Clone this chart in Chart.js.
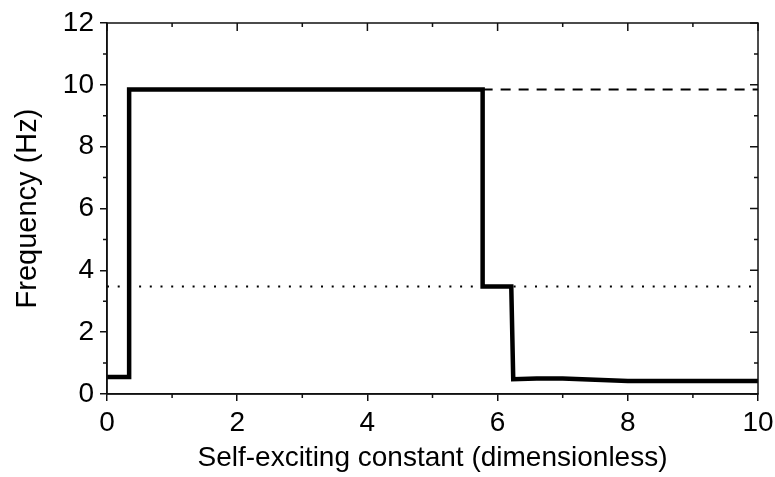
<!DOCTYPE html>
<html>
<head>
<meta charset="utf-8">
<script src="https://cdn.jsdelivr.net/npm/chart.js@4/dist/chart.umd.min.js"></script>
<style>
  html, body { margin: 0; padding: 0; background: #fff; }
  #wrap { width: 775px; height: 477px; }
</style>
</head>
<body>
<div id="wrap"><canvas id="myChart" width="775" height="477"></canvas></div>
<script>
// frequency vs self-exciting constant (step-like curve)
const selfExciting = [0, 0.34, 0.34, 5.77, 5.77, 6.21, 6.24, 6.6, 7.0, 7.5, 8.0, 10];
const frequency    = [0.55, 0.55, 9.85, 9.85, 3.48, 3.48, 0.48, 0.50, 0.50, 0.46, 0.42, 0.42];

// reference levels
const dashedX = [5.77, 10];
const dashedY = [9.85, 9.85];
const dottedX = [0, 10];
const dottedY = [3.48, 3.48];

// tick positions
const xMajor = [0, 2, 4, 6, 8, 10];
const xMinor = [1, 3, 5, 7, 9];
const yMajor = [0, 2, 4, 6, 8, 10, 12];
const yMinor = [1, 3, 5, 7, 9, 11];

const toPoints = (xs, ys) => xs.map((v, i) => ({x: v, y: ys[i]}));

const FONT = 'Liberation Sans, Arial, sans-serif';

// minor ticks + mirrored ticks on top/right, and the frame
const frameTicks = {
    id: 'frameTicks',
    afterDraw(chart) {
        const {ctx, chartArea: a, scales: {x, y}} = chart;
        ctx.save();
        ctx.strokeStyle = '#111';
        ctx.lineWidth = 1.5;
        ctx.beginPath();
        // bottom minor (outward)
        xMinor.forEach(v => {
            const px = x.getPixelForValue(v);
            ctx.moveTo(px, a.bottom); ctx.lineTo(px, a.bottom + 4);
        });
        // left minor (outward)
        yMinor.forEach(v => {
            const py = y.getPixelForValue(v);
            ctx.moveTo(a.left, py); ctx.lineTo(a.left - 4, py);
        });
        // top (inward)
        xMajor.forEach(v => {
            const px = x.getPixelForValue(v);
            ctx.moveTo(px, a.top); ctx.lineTo(px, a.top + 8);
        });
        xMinor.forEach(v => {
            const px = x.getPixelForValue(v);
            ctx.moveTo(px, a.top); ctx.lineTo(px, a.top + 4);
        });
        // right (inward)
        yMajor.forEach(v => {
            const py = y.getPixelForValue(v);
            ctx.moveTo(a.right, py); ctx.lineTo(a.right - 8, py);
        });
        yMinor.forEach(v => {
            const py = y.getPixelForValue(v);
            ctx.moveTo(a.right, py); ctx.lineTo(a.right - 4, py);
        });
        ctx.stroke();
        ctx.strokeRect(a.left, a.top, a.right - a.left, a.bottom - a.top);
        ctx.restore();
    }
};

let ctx = document.getElementById('myChart').getContext('2d');
let chart = new Chart(ctx, {
    type: 'line',
    data: {
        datasets: [{
            data: toPoints(dottedX, dottedY),
            borderColor: '#000',
            borderWidth: 2,
            borderDash: [2, 8.7],
            pointRadius: 0
        }, {
            data: toPoints(dashedX, dashedY),
            borderColor: '#000',
            borderWidth: 2,
            borderDash: [10, 8],
            pointRadius: 0
        }, {
            data: toPoints(selfExciting, frequency),
            borderColor: '#000',
            borderWidth: 4.5,
            borderJoinStyle: 'miter',
            pointRadius: 0,
            tension: 0
        }]
    },
    options: {
        responsive: false,
        animation: false,
        layout: { padding: { top: 23, right: 17, left: 0, bottom: 0 } },
        plugins: {
            legend: { display: false },
            tooltip: { enabled: false }
        },
        scales: {
            x: {
                type: 'linear',
                min: 0,
                max: 10,
                afterBuildTicks: s => { s.ticks = xMajor.map(v => ({value: v})); },
                afterFit: s => { s.height = 83; s.paddingLeft = 0; s.paddingRight = 0; },
                border: { display: true, color: '#111', width: 1.5 },
                grid: { drawOnChartArea: false, tickLength: 7, color: '#111', lineWidth: 1.5 },
                ticks: { color: '#000', font: { family: FONT, size: 28 }, padding: 5, maxRotation: 0 },
                title: {
                    display: true,
                    text: 'Self-exciting constant (dimensionless)',
                    color: '#000',
                    font: { family: FONT, size: 28 },
                    padding: { top: 0, bottom: 2 }
                }
            },
            y: {
                min: 0,
                max: 12,
                afterBuildTicks: s => { s.ticks = yMajor.map(v => ({value: v})); },
                afterFit: s => { s.width = 107; s.paddingTop = 0; s.paddingBottom = 0; },
                border: { display: true, color: '#111', width: 1.5 },
                grid: { drawOnChartArea: false, tickLength: 7, color: '#111', lineWidth: 1.5 },
                ticks: { color: '#000', font: { family: FONT, size: 28 }, padding: 6 },
                title: {
                    display: true,
                    text: 'Frequency (Hz)',
                    color: '#000',
                    font: { family: FONT, size: 29 },
                    padding: { top: 11, bottom: 0 }
                }
            }
        }
    },
    plugins: [frameTicks]
});
</script>
</body>
</html>
